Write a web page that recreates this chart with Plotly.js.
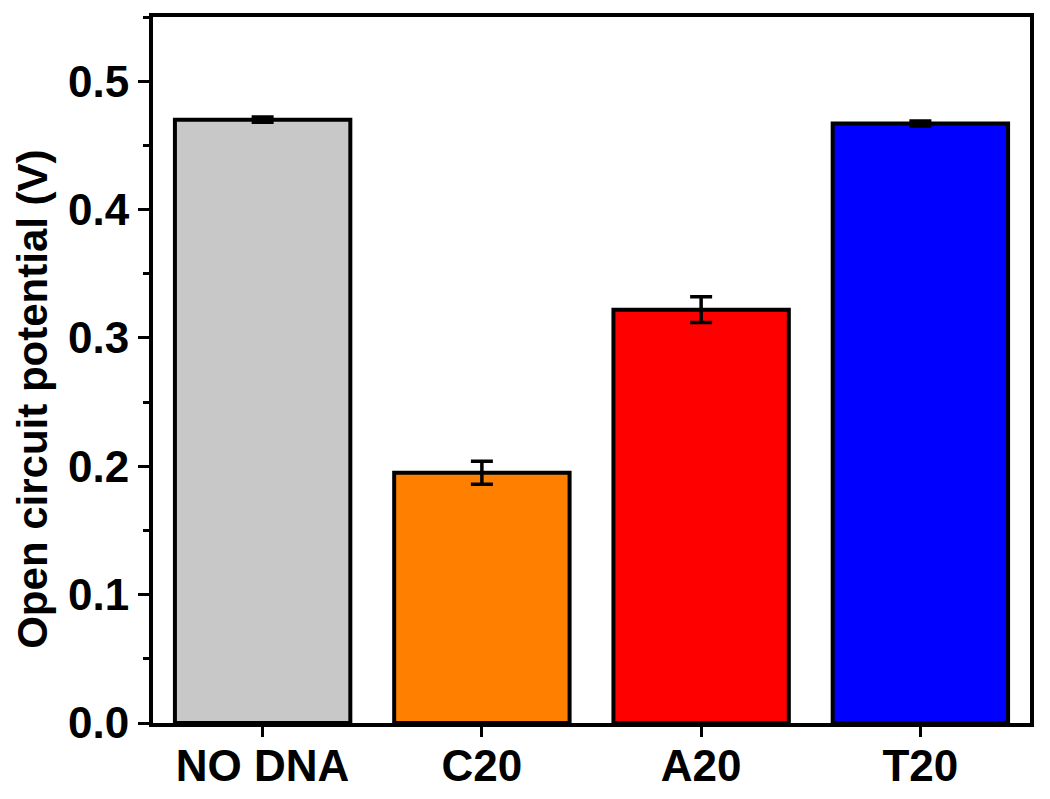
<!DOCTYPE html>
<html>
<head>
<meta charset="utf-8">
<script src="https://cdn.plot.ly/plotly-3.0.1.min.js"></script>
<style>html,body{margin:0;padding:0;background:#fff;}#chart{width:1050px;height:799px;}</style>
</head>
<body>
<div id="chart"></div>
<script>
const categories = ["NO DNA", "C20", "A20", "T20"];
const potentials = [0.470, 0.195, 0.322, 0.467];
const errors = [0.002, 0.009, 0.010, 0.002];
const barColors = ["#c8c8c8", "#ff8000", "#ff0000", "#0000ff"];
const yTitle = 'Open circuit potential (V)';

const fontFam = '"Liberation Sans", Arial, sans-serif';

const trace = {
  type: 'bar',
  x: categories,
  y: potentials,
  width: 0.8,
  marker: {color: barColors, line: {color: '#000', width: 4}},
  error_y: {type: 'data', array: errors, visible: true, color: '#000', thickness: 3.5, width: 11}
};

const layout = {
  width: 1050, height: 799,
  margin: {l: 153, r: 20, t: 17, b: 76},
  paper_bgcolor: '#fff', plot_bgcolor: '#fff',
  showlegend: false,
  font: {family: fontFam, color: '#000', size: 44, weight: 'bold'},
  xaxis: {
    type: 'category',
    range: [-0.5, 3.5],
    showline: true, linecolor: '#000', linewidth: 4, mirror: true,
    ticks: 'outside', ticklen: 10, tickwidth: 3, tickcolor: '#000',
    ticklabelstandoff: -9,
    showgrid: false, zeroline: false,
    tickfont: {family: fontFam, size: 44, color: '#000', weight: 'bold'}
  },
  yaxis: {
    range: [0, 0.55],
    dtick: 0.1, tick0: 0,
    tickformat: '.1f',
    showline: true, linecolor: '#000', linewidth: 4, mirror: true,
    ticks: 'outside', ticklen: 11, tickwidth: 3, tickcolor: '#000',
    minor: {ticks: 'outside', ticklen: 6, tickwidth: 3, dtick: 0.05, tickcolor: '#000'},
    showgrid: false, zeroline: false,
    tickfont: {family: fontFam, size: 44, color: '#000', weight: 'bold'}
  },
  annotations: [{
    text: yTitle,
    xref: 'paper', yref: 'paper',
    x: -0.137, y: 0.459,
    xanchor: 'center', yanchor: 'middle',
    textangle: -90, showarrow: false,
    font: {family: fontFam, size: 42, color: '#000', weight: 'bold'}
  }]
};

Plotly.newPlot('chart', [trace], layout, {displayModeBar: false, staticPlot: true});
</script>
</body>
</html>
